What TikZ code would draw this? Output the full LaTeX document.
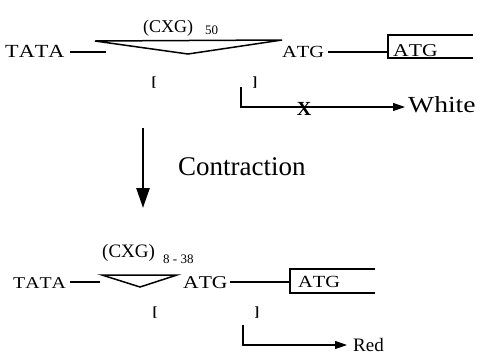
\documentclass[tikz,border=0pt]{standalone}
\usepackage{fontspec}
\usepackage{graphicx}
\setmainfont{Liberation Serif}[Kerning=Off]
\newcommand\stx[2]{\scalebox{1.2}[1]{\fontsize{#1}{#1}\selectfont #2}}
\usetikzlibrary{arrows.meta}
\begin{document}
\begin{tikzpicture}[x=1pt,y=-1pt,
  lbl/.style={inner sep=0pt, anchor=base west},
  cl/.style={inner sep=0pt, anchor=center},
  ln/.style={line width=1.1pt},
  tri/.style={line width=1.5pt, line join=miter},
  harrow/.style={line width=1.1pt, -{Triangle[length=12pt,width=8pt]}},
  varrow/.style={line width=2.6pt, -{Triangle[length=20pt,width=13pt]}}]
\useasboundingbox (0,0) rectangle (481,354);
% ---------- top construct ----------
\node[lbl] (tata1) at (5,57) {\stx{18.5}{TATA}};
\node[lbl] (cxg1) at (143,32) {\fontsize{18}{18}\selectfont (CXG)};
\node[lbl] (n50) at (205,34) {\fontsize{13}{13}\selectfont 50};
\node[lbl] (atg1) at (282,57) {\stx{17}{ATG}};
\node[lbl] (batg1) at (393,56) {\stx{18}{ATG}};
\node[cl] (lb1) at (154,83) {\fontsize{14}{14}\selectfont\bfseries [};
\node[cl] (rb1) at (255,83) {\fontsize{14}{14}\selectfont\bfseries ]};
\coordinate (t1a) at (70,52);
\coordinate (t1b) at (106,52);
\coordinate (tr1l) at (95,41);
\coordinate (tr1r) at (282,40);
\coordinate (tr1b) at (188,54);
\coordinate (a1a) at (328,52);
\coordinate (a1b) at (388,52);
\coordinate (bx1tr) at (473,35);
\coordinate (bx1tl) at (388,35);
\coordinate (bx1bl) at (388,58);
\coordinate (bx1br) at (473,58);
\coordinate (p1a) at (241,87);
\coordinate (p1b) at (241,107);
\node[lbl] (white) at (408,112) {\stx{23}{White}};
\coordinate (p1c) at (405,107);
\draw[ln] (t1a) -- (t1b);
\draw[tri] (tr1l) -- (tr1r) -- (tr1b) -- cycle;
\draw[ln] (a1a) -- (a1b);
\draw[ln] (bx1tr) -- (bx1tl) -- (bx1bl) -- (bx1br);
\draw[harrow] (p1a) -- (p1b) -- (p1c);
\node[cl] (xmark) at (304,109) {\fontsize{20}{20}\selectfont\bfseries X};
% ---------- contraction arrow ----------
\coordinate (va) at (143,128);
\coordinate (vb) at (143,208);
\draw[varrow] (va) -- (vb);
\node[lbl] (contr) at (178,175) {\fontsize{27}{27}\selectfont Contraction};
% ---------- bottom construct ----------
\node[lbl] (tata2) at (13,288) {\stx{16.5}{TATA}};
\node[lbl] (cxg2) at (102,257) {\fontsize{19}{19}\selectfont (CXG)};
\node[lbl] (n838) at (163,263) {\fontsize{13}{13}\selectfont 8 - 38};
\node[lbl] (atg2) at (183,288) {\stx{18}{ATG}};
\node[lbl] (batg2) at (298,287) {\stx{17}{ATG}};
\node[cl] (lb2) at (155,313) {\fontsize{14}{14}\selectfont\bfseries [};
\node[cl] (rb2) at (257,313) {\fontsize{14}{14}\selectfont\bfseries ]};
\coordinate (t2a) at (70,282);
\coordinate (t2b) at (100,282);
\coordinate (tr2l) at (102,275);
\coordinate (tr2r) at (177,275);
\coordinate (tr2b) at (140,287);
\coordinate (a2a) at (230,282);
\coordinate (a2b) at (290,282);
\coordinate (bx2tr) at (375,269);
\coordinate (bx2tl) at (290,269);
\coordinate (bx2bl) at (290,293);
\coordinate (bx2br) at (375,293);
\coordinate (p2a) at (243,325);
\coordinate (p2b) at (243,345);
\coordinate (p2c) at (347,345);
\node[lbl] (red) at (353,351) {\fontsize{19}{19}\selectfont Red};
\draw[ln] (t2a) -- (t2b);
\draw[tri] (tr2l) -- (tr2r) -- (tr2b) -- cycle;
\draw[ln] (a2a) -- (a2b);
\draw[ln] (bx2tr) -- (bx2tl) -- (bx2bl) -- (bx2br);
\draw[harrow] (p2a) -- (p2b) -- (p2c);
\end{tikzpicture}
\end{document}
